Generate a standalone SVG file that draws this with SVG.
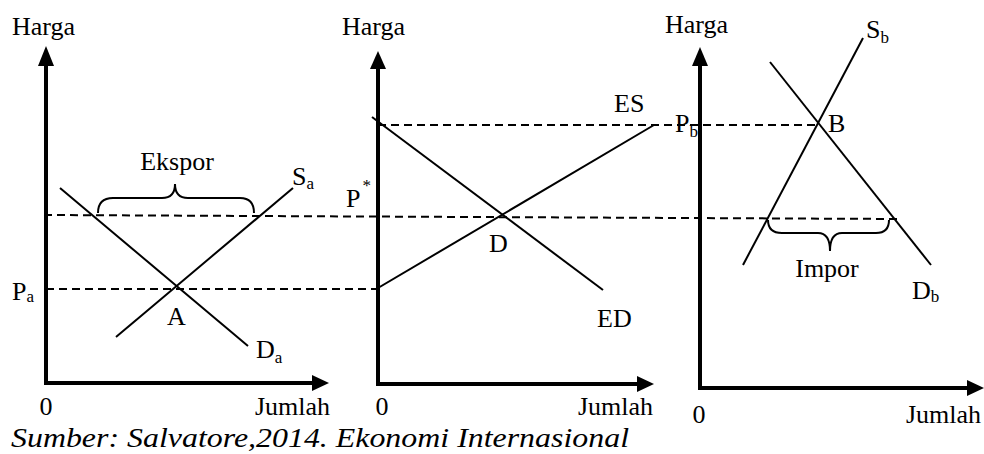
<svg xmlns="http://www.w3.org/2000/svg" width="984" height="454" viewBox="0 0 984 454" font-family="Liberation Serif, Times New Roman, serif">
<style>
text{font-family:'Liberation Serif','Times New Roman',Tinos,'DejaVu Serif',serif;fill:#000}
.lb{font-size:26px}
.sub{font-size:17px}
.cap{font-size:27px;font-style:italic}
.ax{stroke:#000;stroke-width:4;fill:none}
.cv{stroke:#000;stroke-width:2;fill:none}
.ds{stroke:#000;stroke-width:2;stroke-dasharray:8 5;fill:none}
.br{stroke:#000;stroke-width:2;fill:none}
.ah{fill:#000}
</style>
<rect width="984" height="454" fill="#fff"/>
<g id="connectors">
<line class="ds" x1="44" y1="215" x2="898" y2="219"/>
<line class="ds" x1="46" y1="289" x2="378" y2="289"/>
<line class="ds" x1="378" y1="125" x2="818" y2="125"/>
</g>
<g id="panel-a">
<line class="ax" x1="46" y1="384" x2="46" y2="62"/>
<polygon class="ah" points="46,46 38,66 54,66"/>
<line class="ax" x1="44" y1="383" x2="316" y2="383"/>
<polygon class="ah" points="329,383 312,375 312,391"/>
<line class="cv" x1="60" y1="188" x2="248" y2="346"/>
<line class="cv" x1="116" y1="337" x2="293" y2="188"/>
<path class="br" d="M98,213 Q98,198 113,198 L162,198 Q175,198 175,184 Q175,198 188,198 L240,198 Q254,198 254,213"/>
<text class="lb" x="12" y="35">Harga</text>
<text class="lb" x="177" y="170" text-anchor="middle">Ekspor</text>
<text class="lb" x="292" y="185">S<tspan class="sub" dy="4">a</tspan></text>
<text class="lb" x="12" y="300">P<tspan class="sub" dy="2">a</tspan></text>
<text class="lb" x="167" y="325">A</text>
<text class="lb" x="256" y="358">D<tspan class="sub" dy="5">a</tspan></text>
<text class="lb" x="46" y="415" text-anchor="middle">0</text>
<text class="lb" x="255" y="415">Jumlah</text>
</g>
<g id="panel-world">
<line class="ax" x1="378" y1="385" x2="378" y2="64"/>
<polygon class="ah" points="378,51 370,69 386,69"/>
<line class="ax" x1="376" y1="384" x2="640" y2="384"/>
<polygon class="ah" points="654,384 637,376 637,392"/>
<line class="cv" x1="372" y1="117" x2="603" y2="290"/>
<line class="cv" x1="378" y1="288" x2="654" y2="125"/>
<text class="lb" x="342" y="35">Harga</text>
<text class="lb" x="614" y="112">ES</text>
<text class="lb" x="346" y="207">P<tspan class="sub" dx="2" dy="-16">*</tspan></text>
<text class="lb" x="489" y="252">D</text>
<text class="lb" x="597" y="327">ED</text>
<text class="lb" x="382" y="415" text-anchor="middle">0</text>
<text class="lb" x="578" y="415">Jumlah</text>
</g>
<g id="panel-b">
<line class="ax" x1="700" y1="389" x2="700" y2="62"/>
<polygon class="ah" points="700,47 692,66 708,66"/>
<line class="ax" x1="698" y1="388" x2="970" y2="388"/>
<polygon class="ah" points="984,388 967,380 967,396"/>
<line class="cv" x1="743" y1="265" x2="863" y2="38"/>
<line class="cv" x1="770" y1="62" x2="931" y2="265"/>
<path class="br" d="M768,220 Q768,233 782,233 L818,233 Q830,233 830,251 Q830,233 842,233 L876,233 Q889,233 889,220"/>
<text class="lb" x="665" y="33">Harga</text>
<text class="lb" x="866" y="38">S<tspan class="sub" dy="5">b</tspan></text>
<text class="lb" x="675" y="132">P<tspan class="sub" dy="5">b</tspan></text>
<text class="lb" x="828" y="132">B</text>
<text class="lb" x="827" y="277" text-anchor="middle">Impor</text>
<text class="lb" x="912" y="299">D<tspan class="sub" dy="3">b</tspan></text>
<text class="lb" x="699" y="423" text-anchor="middle">0</text>
<text class="lb" x="906" y="423">Jumlah</text>
</g>
<text class="cap" x="11" y="447" textLength="618" lengthAdjust="spacingAndGlyphs">Sumber: Salvatore,2014. Ekonomi Internasional</text>
</svg>
